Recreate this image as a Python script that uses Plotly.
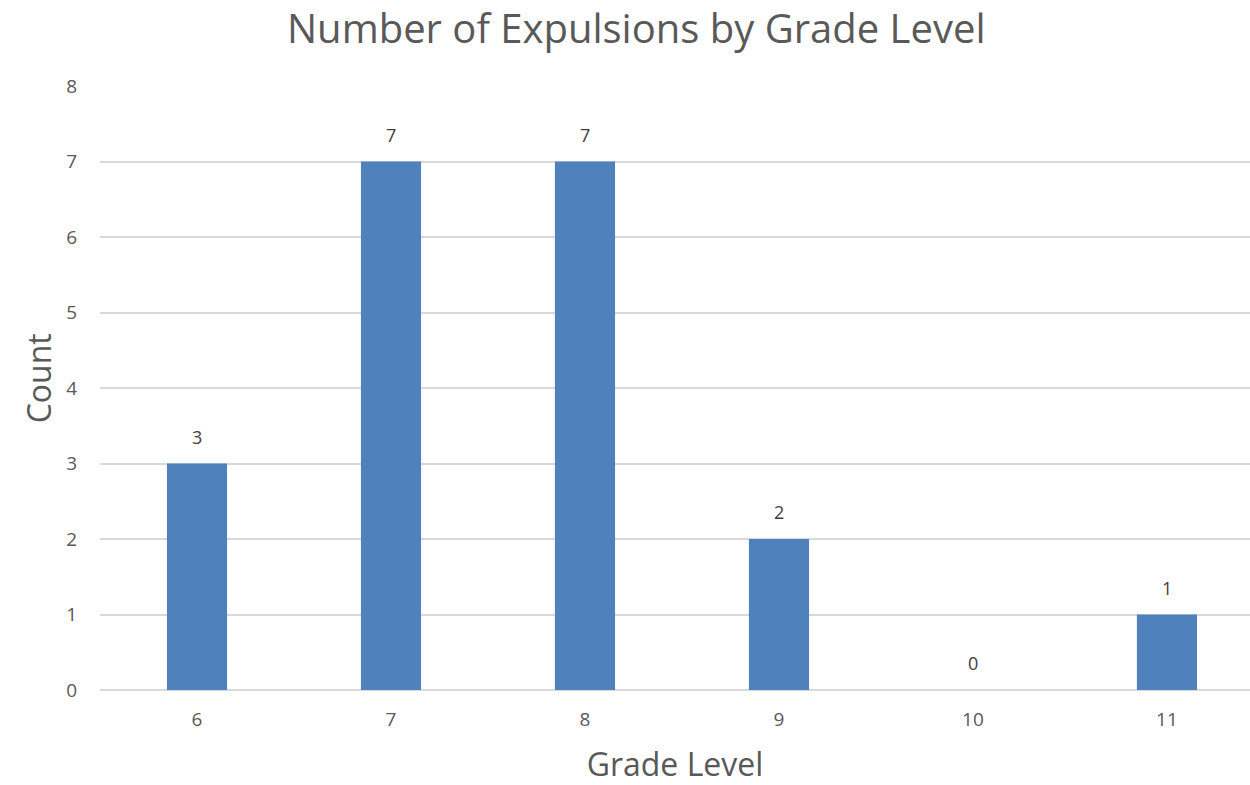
import plotly.graph_objects as go

grades = ["6", "7", "8", "9", "10", "11"]
counts = [3, 7, 7, 2, 0, 1]

BAR_COLOR = "#4F81BD"
TEXT_COLOR = "#595959"
FONT = "Open Sans"

fig = go.Figure(
    go.Bar(
        x=grades,
        y=counts,
        marker=dict(color=BAR_COLOR, line=dict(width=0)),
        width=0.31,
        hoverinfo="x+y",
    )
)

# value labels above each bar (category position by index)
for i, c in enumerate(counts):
    fig.add_annotation(
        x=i, y=c, xref="x", yref="y", text=str(c), showarrow=False,
        yanchor="middle", yshift=27,
        font=dict(family=FONT, size=18, color="#404040"),
    )

# y-axis title, placed as a rotated label
fig.add_annotation(
    text="Count", textangle=-90, showarrow=False,
    xref="paper", x=0, xanchor="center", xshift=-62,
    yref="paper", y=0.516, yanchor="middle",
    font=dict(family=FONT, size=32, color=TEXT_COLOR),
)

fig.update_layout(
    width=1250,
    height=785,
    margin=dict(l=100, r=0, t=86, b=95),
    paper_bgcolor="white",
    plot_bgcolor="white",
    showlegend=False,
    title=dict(
        text="Number of Expulsions by Grade Level",
        x=0.509, xanchor="center", xref="container",
        y=0.963, yanchor="middle", yref="container",
        font=dict(family=FONT, size=40, color=TEXT_COLOR),
    ),
    xaxis=dict(
        type="category",
        range=[-0.5, 5.428],
        showgrid=False,
        showline=False,
        ticks="",
        ticklabelstandoff=16,
        tickfont=dict(family=FONT, size=19, color=TEXT_COLOR),
        title=dict(text="Grade Level", standoff=22,
                   font=dict(family=FONT, size=32, color=TEXT_COLOR)),
    ),
    yaxis=dict(
        range=[0, 8],
        dtick=1,
        showgrid=True,
        gridcolor="#D9D9D9",
        gridwidth=2,
        zeroline=True,
        zerolinecolor="#D9D9D9",
        zerolinewidth=2,
        showline=False,
        ticks="",
        ticklabelstandoff=22,
        tickfont=dict(family=FONT, size=19, color=TEXT_COLOR),
    ),
)

fig.write_html("out.html")
